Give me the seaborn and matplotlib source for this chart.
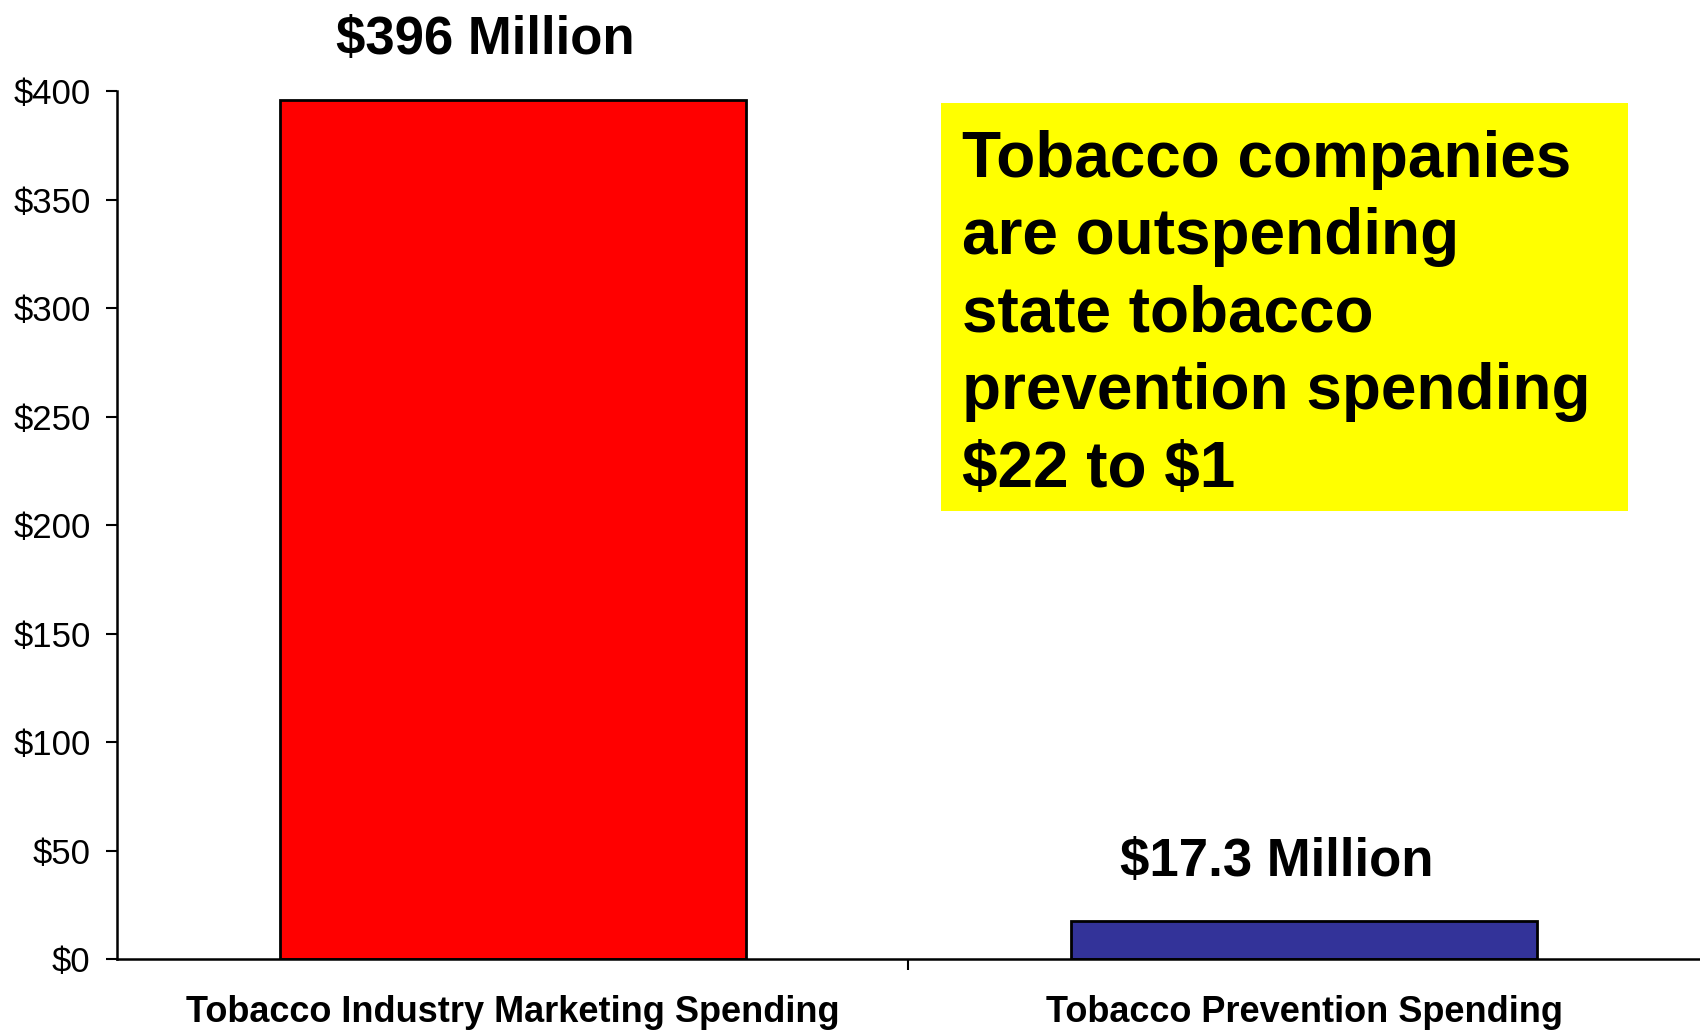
"""Tobacco marketing vs prevention spending bar chart."""

import matplotlib

matplotlib.use("Agg")
import matplotlib.pyplot as plt
import seaborn as sns
from matplotlib.patches import Rectangle
from matplotlib.ticker import FuncFormatter

CATEGORIES = ["Tobacco Industry Marketing Spending", "Tobacco Prevention Spending"]
SPENDING_MILLIONS = [396, 17.3]
BAR_COLORS = ["#FF0000", "#333399"]
Y_TICKS = [0, 50, 100, 150, 200, 250, 300, 350, 400]
CALLOUT = "Tobacco companies\nare outspending\nstate tobacco\nprevention spending\n\\$22 to \\$1"

sns.set_style("ticks")
plt.rcParams["font.family"] = ["Liberation Sans", "DejaVu Sans"]
plt.rcParams["text.color"] = "black"
plt.rcParams["xtick.color"] = "black"
plt.rcParams["ytick.color"] = "black"
plt.rcParams["axes.labelcolor"] = "black"

fig = plt.figure(figsize=(17, 10.32), dpi=100)
ax = fig.add_axes([0.0688, 0.0707, 0.9312, 0.8411])

sns.barplot(
    x=CATEGORIES,
    y=SPENDING_MILLIONS,
    hue=CATEGORIES,
    palette=BAR_COLORS,
    legend=False,
    width=0.589,
    edgecolor="black",
    linewidth=2,
    saturation=1,
    ax=ax,
)

for idx, value in enumerate(SPENDING_MILLIONS):
    ax.annotate(
        f"\\${value:g} Million",
        xy=(idx, value),
        xytext=(-20, 33),
        textcoords="offset points",
        ha="center",
        va="baseline",
        fontsize=38,
        fontweight="bold",
        color="black",
        annotation_clip=False,
    )

ax.set_xlim(-0.5, 1.5)
ax.set_ylim(0, 400)
ax.set_yticks(Y_TICKS)
ax.yaxis.set_major_formatter(FuncFormatter(lambda v, _: f"${v:.0f}"))
ax.tick_params(axis="y", direction="out", length=8, width=1.5, pad=11, labelsize=25,
               colors="black")
ax.set_xticks([0, 1])
ax.set_xticklabels(CATEGORIES, fontsize=26, fontweight="bold", color="black")
ax.set_xticks([0.5], minor=True)
ax.tick_params(axis="x", which="major", length=0, pad=26)
ax.tick_params(axis="x", which="minor", direction="out", length=8, width=1.5,
               colors="black")
ax.set_xlabel("")
ax.set_ylabel("")

sns.despine(ax=ax, top=True, right=True)
for side in ("left", "bottom"):
    ax.spines[side].set_linewidth(1.8)
    ax.spines[side].set_color("black")

box = Rectangle(
    (0.5535, 0.5048),
    0.4041,
    0.3953,
    transform=fig.transFigure,
    facecolor="#FFFF00",
    edgecolor="none",
    zorder=2,
)
fig.add_artist(box)
fig.text(
    0.566,
    0.874,
    CALLOUT,
    ha="left",
    va="top",
    fontsize=46,
    fontweight="bold",
    linespacing=1.37,
    color="black",
    zorder=3,
)

fig.savefig("out.png", dpi=100)
plt.close(fig)
